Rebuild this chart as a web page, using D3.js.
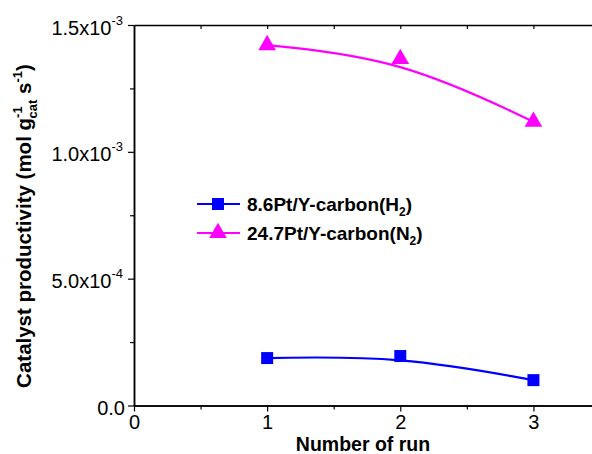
<!DOCTYPE html>
<html>
<head>
<meta charset="utf-8">
<script src="https://cdn.jsdelivr.net/npm/d3@7"></script>
<style>
  body { margin: 0; background: #fff; }
  svg { display: block; font-family: "Liberation Sans", Arial, sans-serif; }
</style>
</head>
<body>
<svg id="canvas" width="592" height="454"></svg>
<script>
// data
let runs = [1, 2, 3]
let h2Values = [1.87e-4, 1.95e-4, 1.0e-4]
let n2Values = [1.421e-3, 1.366e-3, 1.119e-3]
let xTicks = [0, 1, 2, 3]
let yTicks = [0, 5e-4, 1e-3, 1.5e-3]
let yTickLabels = [['0.0', ''], ['5.0x10', '-4'], ['1.0x10', '-3'], ['1.5x10', '-3']]
let seriesNames = ['8.6Pt/Y-carbon(H', '24.7Pt/Y-carbon(N']
let seriesSubs = ['2', '2']

let canvas = d3.select('#canvas')

let xScale = d3.scaleLinear().domain([0, 3.5]).range([134, 600])
let yScale = d3.scaleLinear().domain([0, 1.5e-3]).range([405.5, 25])

let series = [
    { values: h2Values, color: '#0000ff', symbol: d3.symbolSquare, size: 144 },
    { values: n2Values, color: '#ff00ff', symbol: d3.symbolTriangle, size: 135 }
]

// axes
let bottomAxis = d3.axisBottom(xScale).tickValues(xTicks).tickSize(6).tickSizeOuter(0).tickFormat(d3.format('d'))
let bottomMinor = d3.axisBottom(xScale).tickValues([0.5, 1.5, 2.5, 3.5]).tickSize(4).tickSizeOuter(0).tickFormat('')
let topAxis = d3.axisBottom(xScale).tickValues([0.5, 1, 1.5, 2, 2.5, 3, 3.5]).tickSize(4).tickSizeOuter(0).tickFormat('')
let leftAxis = d3.axisLeft(yScale).tickValues(yTicks).tickSize(6).tickSizeOuter(0).tickFormat('')
let leftMinor = d3.axisLeft(yScale).tickValues([2.5e-4, 7.5e-4, 1.25e-3]).tickSize(4).tickSizeOuter(0).tickFormat('')

let gx = canvas.append('g').attr('transform', 'translate(0,' + yScale(0) + ')').call(bottomAxis)
canvas.append('g').attr('transform', 'translate(0,' + yScale(0) + ')').call(bottomMinor)
canvas.append('g').attr('transform', 'translate(0,' + yScale(1.5e-3) + ')').call(topAxis)
let gy = canvas.append('g').attr('transform', 'translate(' + xScale(0) + ',0)').call(leftAxis)
canvas.append('g').attr('transform', 'translate(' + xScale(0) + ',0)').call(leftMinor)

canvas.selectAll('.domain').attr('stroke', '#000').attr('stroke-width', 1.5)
canvas.selectAll('.tick line').attr('stroke', '#000').attr('stroke-width', 1.2)

gx.selectAll('.tick text')
    .attr('font-size', 20)
    .attr('font-family', '"Liberation Sans", Arial, sans-serif')
    .attr('fill', '#000')
    .attr('y', 9)
    .attr('dy', '0.71em')

gy.selectAll('.tick').each(function (d, i) {
    let label = yTickLabels[i]
    let t = d3.select(this).append('text')
        .attr('x', label[1] ? -11 : -9)
        .attr('y', 9)
        .attr('text-anchor', 'end')
        .attr('font-size', 20)
        .attr('fill', '#000')
    t.append('tspan').text(label[0])
    if (label[1]) {
        t.append('tspan').attr('font-size', 13).attr('dy', -10).text(label[1])
    }
})

// curves
let line = d3.line()
    .x((d, i) => xScale(runs[i]))
    .y(d => yScale(d))
    .curve(d3.curveBasis)

series.forEach(s => {
    canvas.append('path')
        .attr('d', line(s.values))
        .attr('fill', 'none')
        .attr('stroke', s.color)
        .attr('stroke-width', 2.2)

    canvas.selectAll(null)
        .data(s.values)
        .enter()
        .append('path')
        .attr('d', d3.symbol().type(s.symbol).size(s.size))
        .attr('transform', (d, i) => 'translate(' + xScale(runs[i]) + ',' + yScale(d) + ')')
        .attr('fill', s.color)
})

// axis titles
canvas.append('text')
    .attr('x', 363)
    .attr('y', 451)
    .attr('text-anchor', 'middle')
    .attr('font-size', 19.5)
    .attr('font-weight', 'bold')
    .text('Number of run')

let ty = canvas.append('text')
    .attr('transform', 'translate(31,226) rotate(-90)')
    .attr('text-anchor', 'middle')
    .attr('font-size', 20.5)
    .attr('font-weight', 'bold')
ty.append('tspan').text('Catalyst productivity (mol g')
ty.append('tspan').attr('font-size', 13).attr('dy', -9).text('-1')
ty.append('tspan').attr('font-size', 13).attr('dx', -12).attr('dy', 15).text('cat')
ty.append('tspan').attr('dy', -6).text(' s')
ty.append('tspan').attr('font-size', 13).attr('dy', -9).text('-1')
ty.append('tspan').attr('dy', 9).text(')')

// legend
let legend = canvas.append('g')
series.forEach((s, i) => {
    let y = 204 + i * 29
    legend.append('line')
        .attr('x1', 197).attr('x2', 240)
        .attr('y1', y).attr('y2', y)
        .attr('stroke', s.color)
        .attr('stroke-width', 2.2)
    legend.append('path')
        .attr('d', d3.symbol().type(s.symbol).size(s.size))
        .attr('transform', 'translate(218,' + y + ')')
        .attr('fill', s.color)
    let t = legend.append('text')
        .attr('x', 247)
        .attr('y', y + 7)
        .attr('font-size', 19)
        .attr('font-weight', 'bold')
    t.append('tspan').text(seriesNames[i])
    t.append('tspan').attr('font-size', 12).attr('dy', 5).text(seriesSubs[i])
    t.append('tspan').attr('dy', -5).text(')')
})
</script>
</body>
</html>
